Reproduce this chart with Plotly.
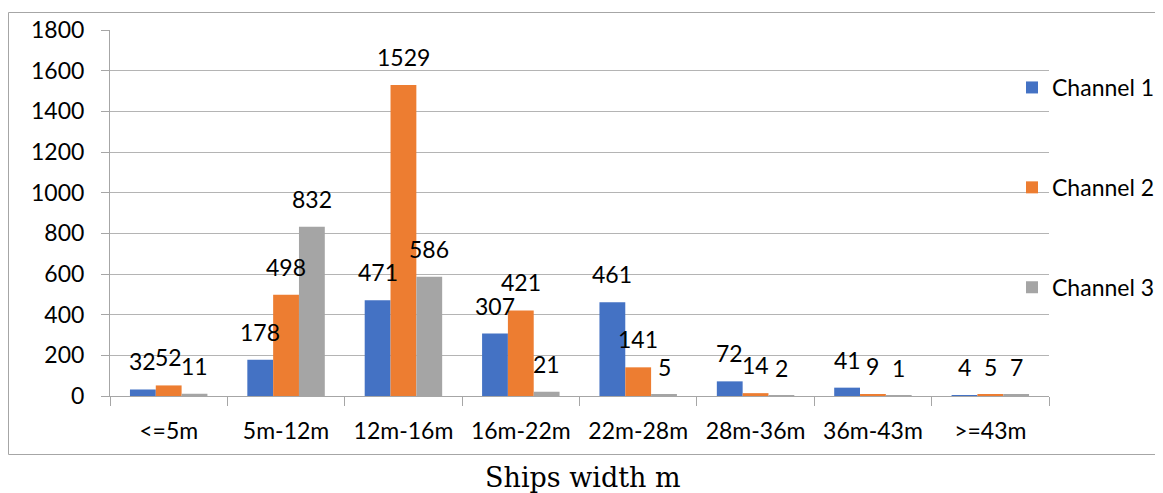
import plotly.graph_objects as go

categories = ["<=5m", "5m-12m", "12m-16m", "16m-22m", "22m-28m", "28m-36m", "36m-43m", ">=43m"]
channel1 = [32, 178, 471, 307, 461, 72, 41, 4]
channel2 = [52, 498, 1529, 421, 141, 14, 9, 5]
channel3 = [11, 832, 586, 21, 5, 2, 1, 7]
series_names = ["Channel 1", "Channel 2", "Channel 3"]
colors = ["#4472C4", "#ED7D31", "#A5A5A5"]
y_ticks = [0, 200, 400, 600, 800, 1000, 1200, 1400, 1600, 1800]

# the page body has an 8px margin, so the figure is drawn 8px in from the corner
O = 8
W, H = 1163 - O, 493 - O
L, R, T, B = 110 - O, W - (1049 - O), 30 - O, H - (396 - O)
pw, ph = W - L - R, H - T - B

def px(x):
    return (x - O - L) / pw

def py(y):
    return (H - B - (y - O)) / ph

FONT = "Lato, Carlito, Calibri, sans-serif"
FS = 23
BARGAP = 0.34
bar_px = pw / len(categories) * (1 - BARGAP) / 3

fig = go.Figure()
annotations = []
for i, (name, vals) in enumerate(zip(series_names, [channel1, channel2, channel3])):
    fig.add_trace(go.Bar(
        x=categories, y=vals, name=name, legendgroup=name,
        marker=dict(color=colors[i], line=dict(width=0)),
    ))
    for c, v in zip(categories, vals):
        annotations.append(dict(
            x=c, y=v, xref="x", yref="y", text=str(v), showarrow=False,
            xanchor="center", yanchor="middle", xshift=(i - 1) * bar_px, yshift=28,
            font=dict(family=FONT, size=FS, color="#000000")))

annotations.append(dict(text="Ships width m", xref="paper", yref="paper",
                        x=px(583), y=py(488), xanchor="center", yanchor="bottom",
                        yshift=-7, showarrow=False,
                        font=dict(family="DejaVu Serif, Cambria, serif", size=27, color="#000000")))

fig.update_layout(
    width=W, height=H,
    margin=dict(l=L, r=R, t=T, b=B, pad=0, autoexpand=False),
    paper_bgcolor="white", plot_bgcolor="white",
    barmode="group", bargap=BARGAP, bargroupgap=0,
    font=dict(family=FONT, size=FS, color="#000000"),
    showlegend=True,
    legend=dict(x=px(1012), y=py(66), xanchor="left", yanchor="top",
                traceorder="grouped", tracegroupgap=67,
                font=dict(family=FONT, size=FS, color="#000000"),
                bgcolor="rgba(0,0,0,0)", itemclick=False),
    xaxis=dict(type="category", showline=True, linecolor="#A6A6A6", linewidth=1,
               ticks="outside", tickson="boundaries", ticklen=9, tickcolor="#A6A6A6",
               showgrid=False, ticklabelstandoff=14, automargin=False,
               tickfont=dict(family=FONT, size=FS, color="#000000")),
    yaxis=dict(range=[0, 1800], tickvals=y_ticks, showline=True, linecolor="#A6A6A6",
               linewidth=1, ticks="outside", ticklen=8, tickcolor="#A6A6A6",
               showgrid=True, gridcolor="#B4B4B4", gridwidth=1, zeroline=False,
               ticklabelstandoff=12, automargin=False,
               tickfont=dict(family=FONT, size=FS, color="#000000")),
    shapes=[dict(type="rect", xref="paper", yref="paper",
                 x0=px(8.5), x1=px(1175), y0=py(454.5), y1=py(12.5),
                 line=dict(color="#A6A6A6", width=1), fillcolor="rgba(0,0,0,0)", layer="below")],
    annotations=annotations,
)

fig.write_html("out.html")
